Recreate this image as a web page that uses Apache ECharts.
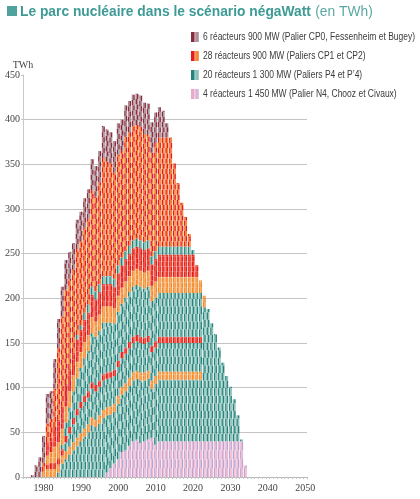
<!DOCTYPE html>
<html><head><meta charset="utf-8">
<script src="https://cdn.jsdelivr.net/npm/echarts@6/dist/echarts.min.js"></script>
<style>html,body{margin:0;padding:0;background:#fff}#c{width:420px;height:499px}</style>
</head><body><div id="c"></div>
<script>
// Axis: one category per year
const axisFirstYear = 1975, axisLastYear = 2050;
const axisYears = [];
for (let y = axisFirstYear; y <= axisLastYear; y++) axisYears.push(String(y));
const labelStep = 10;

// Data years 1977..2034 (TWh), stacked bottom -> top
const firstDataYear = 1977;
const n4 = [0,0,0,0,0,0,0,0,0,0,0,0,0,0,0,0,0,0,0,0,
  5,10,15,20,28,30,35,40,42,38,40,42,44,36,
  40,40,40,40,40,40,40,40,40,40,40,40,40,40,40,40,40,40,40,40,40,40,40,13];
const p4a = [0,0,0,0,0,0,0,
  5,15,20,25,30,35,40,45,50,58,56,60,66,64,60,58,62,64,66,67,68,68,70,68,68,55,68,
  69,69,69,69,69,69,69,69,69,69,69,69,
  150,148,132,120,105,88,73,61,47,29,2,0];
const cpA = [0,0,0,6,9,9,9,9,9,9,9,9,9,9,9,9,9,8,
  9,9,9,9,9,9,9,9,9,9,9,9,9,9,9,9,9,9,9,9,9,9,9,9,9,9,9,9,
  0,0,0,0,0,0,0,0,0,0,0,0];
const p4b = [0,0,0,0,0,0,0,0,0,
  10,15,20,25,28,30,30,32,32,32,33,32,32,31,32,32,33,33,33,33,33,32,32,32,
  32,32,32,32,32,32,32,32,32,32,32,32,32,
  0,0,0,0,0,0,0,0,0,0,0,0];
const cpB = [0,0,0,0,5,
  7,7,7,7,7,7,7,7,7,7,7,7,7,7,7,7,7,7,7,7,7,7,7,7,7,7,7,7,7,7,7,7,7,7,7,7,7,7,7,7,7,
  0,0,0,0,0,0,0,0,0,0,0,0];
const p4c = [0,0,0,0,0,0,0,0,
  5,15,22,30,35,38,42,45,55,54,56,58,56,55,52,55,54,56,56,56,56,56,55,55,50,
  49,49,49,49,49,49,49,49,49,49,49,49,49,
  0,0,0,0,0,0,0,0,0,0,0,0];
const cpC = [0,0,0,0,10,12,
  18,18,18,18,18,18,18,18,18,18,18,17,18,18,18,18,17,
  18,18,18,18,18,18,18,18,18,17,
  18,18,18,18,18,18,18,18,18,18,18,18,14,13,
  0,0,0,0,0,0,0,0,0,0,0];
const cpD = [0,0,0,0,15,16,22,
  25,25,25,25,25,25,25,25,25,25,25,25,25,25,25,24,
  25,25,25,25,25,25,25,25,25,24,
  25,25,25,25,25,25,25,25,25,25,25,13,
  0,0,0,0,0,0,0,0,0,0,0,0,0];
const p4d = [0,0,0,0,0,0,0,0,0,0,0,0,5,5,8,
  9,9,9,9,9,9,9,9,9,9,9,9,9,9,9,9,9,9,9,9,9,9,9,9,9,9,9,9,5,
  0,0,0,0,0,0,0,0,0,0,0,0,0,0];
const cpE = [0,0,0,10,21,21,43,80,101,106,101,93,96,94,95,96,108,106,114,132,
  128,126,119,124,119,128,127,128,127,127,121,118,116,121,122,122,122,122,93,71,49,33,14,
  0,0,0,0,0,0,0,0,0,0,0,0,0,0,0];
const cp0 = [2,13,22,30,33,31,33,33,33,33,30,30,33,33,33,33,35,34,35,36,36,35,35,35,
  35,35,35,35,35,35,35,35,34,34,34,30,16,
  0,0,0,0,0,0,0,0,0,0,0,0,0,0,0,0,0,0,0,0,0];

// Legend labels
const legendLabels = [
  '6 réacteurs 900 MW (Palier CP0, Fessenheim et Bugey)',
  '28 réacteurs 900 MW (Paliers CP1 et CP2)',
  '20 réacteurs 1 300 MW (Paliers P4 et P’4)',
  '4 réacteurs 1 450 MW (Palier N4, Chooz et Civaux)'
];

const C = {
  cp0: ['#8a2c3c', '#a8929a'],
  cpMix: ['#e51b1e', '#f28a2e'],
  orange: ['#f28a2e', '#f39a45'],
  red: ['#e51b1e', '#ea3b24'],
  teal: ['#23847f', '#8fc0b5'],
  n4: ['#bba4cf', '#f4b8d2']
};

const groups = [
  {name: 'N4', data: n4, colors: C.n4, unit: 10},
  {name: 'P4a', data: p4a, colors: C.teal, unit: 8.5},
  {name: 'CPa', data: cpA, colors: C.orange, unit: 5.8},
  {name: 'P4b', data: p4b, colors: C.teal, unit: 8.5},
  {name: 'CPb', data: cpB, colors: C.red, unit: 5.8},
  {name: 'P4c', data: p4c, colors: C.teal, unit: 8.5},
  {name: 'CPc', data: cpC, colors: C.orange, unit: 5.8},
  {name: 'CPd', data: cpD, colors: C.red, unit: 5.8},
  {name: 'P4d', data: p4d, colors: C.teal, unit: 8.5},
  {name: 'CPe', data: cpE, colors: C.cpMix, unit: 5.8},
  {name: 'CP0', data: cp0, colors: C.cp0, unit: 5.8}
];

function makeRender(colors, unit) {
  return function (params, api) {
    const xi = api.value(0), b = api.value(1), t = api.value(2);
    const children = [];
    if (t > b) {
      const cw = api.size([1, 0])[0];
      const w = cw * 0.8;
      const cx = api.coord([xi, 0])[0];
      let k = 0;
      for (let v = b; v < t - 1e-6; v += unit, k++) {
        const v2 = Math.min(v + unit, t);
        const y0 = api.coord([xi, v])[1], y1 = api.coord([xi, v2])[1];
        const h = y0 - y1;
        children.push({type: 'rect', shape: {x: cx - w / 2, y: y1, width: w / 2, height: h}, style: {fill: colors[k % 2]}});
        children.push({type: 'rect', shape: {x: cx, y: y1, width: w / 2, height: h}, style: {fill: colors[(k + 1) % 2]}});
      }
    }
    return {type: 'group', children: children};
  };
}

const offset = firstDataYear - axisFirstYear;
const cum = new Array(n4.length).fill(0);
const series = groups.map(function (g) {
  const data = g.data.map(function (v, i) {
    const item = [i + offset, cum[i], cum[i] + v];
    cum[i] += v;
    return item;
  });
  return {
    type: 'custom', name: g.name, data: data,
    encode: {x: 0, y: [1, 2]},
    renderItem: makeRender(g.colors, g.unit),
    silent: true, animation: false, clip: true
  };
});

const serif = '"Liberation Serif", "DejaVu Serif", serif';
const sans = '"Liberation Sans", Arial, sans-serif';

const legendIcons = [C.cp0, C.cpMix, C.teal, ['#eaa9c8', '#d8b6d8']];
const legendY = [37, 56, 75, 94];
const graphics = [
  {type: 'rect', shape: {x: 7, y: 6, width: 10, height: 10}, style: {fill: '#4fa29e'}},
  {type: 'text', x: 20, y: 11.5, scaleX: 0.92, style: {text: 'Le parc nucléaire dans le scénario négaWatt', x: 0, y: 0, font: 'bold 15px ' + sans, fill: '#3d9a95', align: 'left', verticalAlign: 'middle', textAlign: 'left', textVerticalAlign: 'middle'}},
  {type: 'text', x: 311.4, y: 11.5, scaleX: 0.92, style: {text: ' (en TWh)', x: 0, y: 0, font: '15px ' + sans, fill: '#5aa8a3', align: 'left', verticalAlign: 'middle', textAlign: 'left', textVerticalAlign: 'middle'}}
];
legendLabels.forEach(function (t, i) {
  const y = legendY[i];
  graphics.push({type: 'rect', shape: {x: 191, y: y - 5, width: 3.6, height: 10}, style: {fill: legendIcons[i][0]}});
  graphics.push({type: 'rect', shape: {x: 195.2, y: y - 5, width: 3.6, height: 10}, style: {fill: legendIcons[i][1]}});
  graphics.push({type: 'text', x: 203, y: y, scaleX: 0.85, style: {text: t, x: 0, y: 0, font: '10px ' + sans, fill: '#3a3a3a', align: 'left', verticalAlign: 'middle', textAlign: 'left', textVerticalAlign: 'middle'}});
});

const chart = echarts.init(document.getElementById('c'), null, {renderer: 'canvas'});
chart.setOption({
  animation: false,
  backgroundColor: '#ffffff',
  grid: {left: 23, right: 113, top: 75, bottom: 22},
  xAxis: {
    type: 'category', data: axisYears, boundaryGap: true,
    axisLine: {show: true, lineStyle: {color: '#b8b8b8'}},
    axisTick: {show: true, interval: 0, length: 2, lineStyle: {color: '#c4c4c4'}},
    axisLabel: {interval: function (i, v) { return (+v) % labelStep === 0; }, fontFamily: serif, fontSize: 10, color: '#444', margin: 6},
    splitLine: {show: false}
  },
  yAxis: {
    type: 'value', min: 0, max: 450, interval: 50,
    name: 'TWh', nameLocation: 'end', nameGap: 5,
    nameTextStyle: {fontFamily: serif, fontSize: 10, color: '#444', align: 'center'},
    axisLine: {show: true, lineStyle: {color: '#c8c8c8'}},
    axisTick: {show: true, length: 2, lineStyle: {color: '#c8c8c8'}},
    axisLabel: {fontFamily: serif, fontSize: 10, color: '#444', margin: 3},
    splitLine: {show: true, showMaxLine: false, lineStyle: {color: '#c4c4c4', width: 1}}
  },
  graphic: {elements: graphics},
  series: series
});
</script></body></html>
